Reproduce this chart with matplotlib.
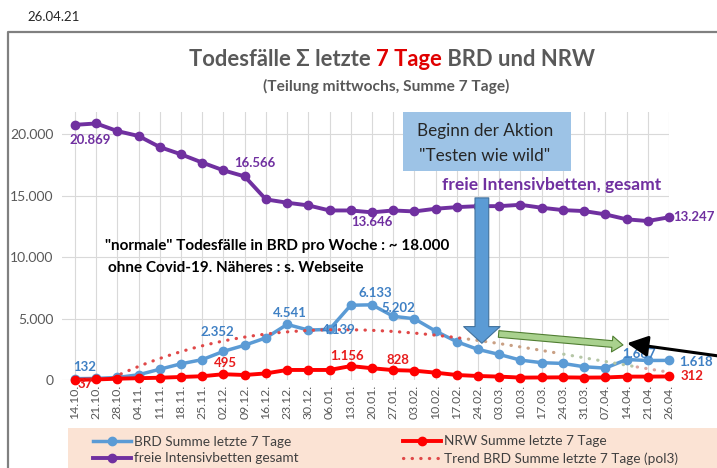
import numpy as np
import matplotlib
matplotlib.use("Agg")
import matplotlib.pyplot as plt
from matplotlib.patches import Rectangle
from matplotlib.lines import Line2D
from matplotlib.ticker import FuncFormatter

plt.rcParams['font.family'] = ['Lato', 'DejaVu Sans']

# week labels (Wednesday split)
dates = ["14.10.", "21.10.", "28.10.", "04.11.", "11.11.", "18.11.", "25.11.", "02.12.",
         "09.12.", "16.12.", "23.12.", "30.12.", "06.01.", "13.01.", "20.01.", "27.01.",
         "03.02.", "10.02.", "17.02.", "24.02.", "03.03.", "10.03.", "17.03.", "24.03.",
         "31.03.", "07.04.", "14.04.", "21.04.", "26.04."]

brd = [132, 150, 230, 450, 900, 1340, 1680, 2352, 2850, 3450, 4541, 4080, 4139, 6100,
       6133, 5202, 5000, 4000, 3130, 2510, 2100, 1640, 1430, 1370, 1100, 990, 1687, 1610, 1618]
nrw = [37, 70, 130, 170, 210, 270, 330, 495, 430, 560, 840, 840, 840, 1156,
       980, 828, 780, 620, 430, 350, 300, 220, 230, 240, 220, 230, 300, 300, 312]
icu = [20756, 20869, 20250, 19850, 18950, 18360, 17690, 17060, 16566, 14700, 14430, 14210,
       13800, 13800, 13646, 13800, 13720, 13940, 14070, 14150, 14150, 14260, 14020, 13830,
       13750, 13480, 13080, 12940, 13247]

# labelled points: (index, text, dx px, dy px, ha)
brd_labels = [(0, "132", 10, 12, "center"), (7, "2.352", -6, 19, "center"),
              (10, "4.541", 3, 11, "center"), (12, "4.139", 9, -1, "center"),
              (14, "6.133", 3, 12, "center"), (15, "5.202", 5, 8, "center"),
              (26, "1.687", 12, 6, "center"), (28, "1.618", 10, -2, "left")]
nrw_labels = [(0, "37", 10, -4, "center"), (7, "495", 2, 11, "center"),
              (13, "1.156", -4, 10, "center"), (15, "828", 5, 10, "center"),
              (28, "312", 12, 0, "left")]
icu_labels = [(1, "20.869", -6, -17, "center"), (8, "16.566", 10, 13, "center"),
              (14, "13.646", 0, -10, "center"), (28, "13.247", 4, 0, "left")]

W, H = 717, 468
fig = plt.figure(figsize=(W / 100, H / 100), dpi=100)

def fx(x):
    return x / W

def fy(y):
    return 1 - y / H

# frame and date stamp
fig.add_artist(Line2D([fx(8), fx(8), fx(717)], [fy(468), fy(32), fy(32)],
                      color="#808080", lw=1.6))
fig.text(fx(27), fy(17), "26.04.21", fontsize=9.5, color="#262626", va="center")

ax = fig.add_axes([fx(62), fy(380.3), fx(669) - fx(62), fy(112) - fy(380.3)])
x = np.arange(len(dates))

BLUE = "#5B9BD5"
RED = "#FF0000"
PURPLE = "#7030A0"

ax.plot(x, icu, color=PURPLE, lw=2.8, marker="o", ms=6, zorder=5, clip_on=False)
ax.plot(x, brd, color=BLUE, lw=2.5, marker="o", ms=6, zorder=4, clip_on=False)

# polynomial trend (order 3), like the Excel trendline
xs = np.linspace(0, len(dates) - 1, 300)
coef = np.polyfit(x + 1, brd, 3)
trend = np.polyval(coef, xs + 1)
segs = [(0, 18.5, "#E04848"), (18.5, 23, "#C9A084"), (23, 26.5, "#B5C6A6"), (26.5, 28, "#DCA6A0")]
for a, b, c in segs:
    m = (xs >= a) & (xs <= b)
    ax.plot(xs[m], trend[m], color=c, lw=2.3, linestyle=(0, (0.1, 2.6)),
            dash_capstyle="round", zorder=4.5)

ax.plot(x, nrw, color=RED, lw=2.8, marker="o", ms=6, zorder=6, clip_on=False)

def put_labels(data, labels, color):
    for i, txt, dx, dy, ha in labels:
        ax.annotate(txt, (x[i], data[i]), xytext=(dx * 0.72, dy * 0.72),
                    textcoords="offset points", ha=ha, va="center",
                    fontsize=9.5, fontweight="bold", color=color, zorder=8,
                    annotation_clip=False)

put_labels(brd, brd_labels, "#3F80C4")
put_labels(nrw, nrw_labels, "#E81C1C")
put_labels(icu, icu_labels, PURPLE)

ax.set_xlim(-0.61, len(dates) - 1)
ax.set_ylim(0, 21800)
ax.set_xticks(x)
ax.set_xticklabels(dates, rotation=90, fontsize=8.8, color="#595959")
ax.set_yticks([0, 5000, 10000, 15000, 20000])
ax.yaxis.set_major_formatter(FuncFormatter(lambda v, p: f"{int(v):,}".replace(",", ".")))
ax.tick_params(axis="y", labelsize=10, labelcolor="#595959", length=0, pad=6)
ax.tick_params(axis="x", length=0, pad=3.5)
ax.grid(True, color="#D9D9D9", lw=0.8)
ax.set_axisbelow(True)
for s in ax.spines.values():
    s.set_visible(False)

# arrows
ax.annotate("", xy=(19.18, 3008), xytext=(19.18, 14821),
            arrowprops=dict(arrowstyle="simple,head_width=1.75,head_length=0.8,tail_width=0.66",
                            mutation_scale=15, fc=BLUE, ec="#41719C", lw=0.8,
                            shrinkA=0, shrinkB=0), zorder=9)
ax.annotate("", xy=(25.83, 2870), xytext=(19.97, 3764),
            arrowprops=dict(arrowstyle="simple,head_width=0.95,head_length=0.65,tail_width=0.4",
                            mutation_scale=12, fc="#A9D18E", ec="#507E32", lw=0.8,
                            shrinkA=0, shrinkB=0), zorder=9)
ax.annotate("", xy=(26.02, 3008), xytext=(30.7, 1890), annotation_clip=False,
            arrowprops=dict(arrowstyle="-|>,head_width=0.45,head_length=0.9",
                            mutation_scale=14, fc="black", ec="black", lw=2.2,
                            shrinkA=0, shrinkB=0), zorder=9)

# text box "Beginn der Aktion"
fig.add_artist(Rectangle((fx(403), fy(171)), fx(571) - fx(403), fy(112) - fy(171),
                         facecolor="#9DC3E6", edgecolor="none", zorder=3))
fig.text(fx(485), fy(131), "Beginn der Aktion", fontsize=12.3, color="#262626",
         ha="center", va="center", zorder=4)
fig.text(fx(485), fy(156), "\"Testen wie wild\"", fontsize=12.3, color="#262626",
         ha="center", va="center", zorder=4)
fig.text(fx(552), fy(185), "freie Intensivbetten, gesamt", fontsize=12.6, fontweight="bold",
         color=PURPLE, ha="center", va="center")
fig.text(fx(105), fy(246), "\"normale\" Todesfälle in BRD pro Woche : ~ 18.000",
         fontsize=11, fontweight="bold", color="black", va="center")
fig.text(fx(108), fy(268), "ohne Covid-19. Näheres : s. Webseite",
         fontsize=11, fontweight="bold", color="black", va="center")

# title with red part
parts = [("Todesfälle Σ letzte ", "#595959"), ("7 Tage", "#E00000"), (" BRD und NRW", "#595959")]
renderer = fig.canvas.get_renderer()
texts = [fig.text(0, fy(60), p, fontsize=15.8, fontweight="bold", color=c, va="center")
         for p, c in parts]
widths = [t.get_window_extent(renderer).width for t in texts]
start = 392 - sum(widths) / 2
for t, w in zip(texts, widths):
    t.set_x(fx(start))
    start += w
fig.text(fx(386), fy(86), "(Teilung mittwochs, Summe 7 Tage)", fontsize=11.2,
         fontweight="bold", color="#595959", ha="center", va="center")

# legend area
fig.add_artist(Rectangle((fx(68), fy(468)), fx(717) - fx(68), fy(428) - fy(468),
                         facecolor="#FBE3D4", edgecolor="none", zorder=0))
h_brd = Line2D([], [], color=BLUE, lw=2.5, marker="o", ms=6)
h_nrw = Line2D([], [], color=RED, lw=2.8, marker="o", ms=6)
h_icu = Line2D([], [], color=PURPLE, lw=2.8, marker="o", ms=6)
h_tr = Line2D([], [], color="#E04848", lw=2.3, linestyle=(0, (0.1, 2.6)), dash_capstyle="round")
leg_kw = dict(frameon=False, fontsize=9.8, handlelength=2.8, handletextpad=0.2,
              labelspacing=0.35, borderpad=0, loc="center left", labelcolor="#404040")
fig.legend([h_brd, h_icu], ["BRD Summe letzte 7 Tage", "freie Intensivbetten gesamt"],
           bbox_to_anchor=(fx(86), fy(450)), **leg_kw)
fig.legend([h_nrw, h_tr], ["NRW Summe letzte 7 Tage", "Trend BRD Summe letzte 7 Tage (pol3)"],
           bbox_to_anchor=(fx(396), fy(450)), **leg_kw)

fig.savefig("out.png", dpi=100)
